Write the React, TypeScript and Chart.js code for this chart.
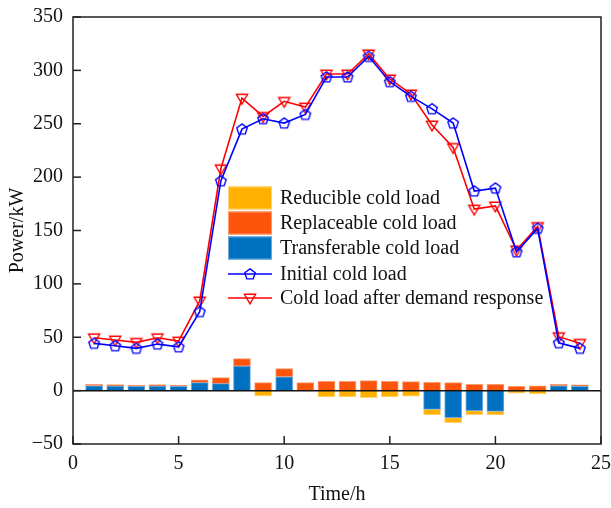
import React, { useEffect, useRef } from "react";
import { Chart, registerables } from "chart.js";

Chart.register(...registerables);

// ---- data ----
const hours = [1, 2, 3, 4, 5, 6, 7, 8, 9, 10, 11, 12, 13, 14, 15, 16, 17, 18, 19, 20, 21, 22, 23, 24];
const initialLoad = [44.3, 42, 39.6, 43.6, 41, 74, 196.5, 245, 254.7, 250.6, 258.7, 293.8, 293.8, 313, 289.4, 275.6, 264, 250.6, 187, 189.7, 130, 152, 44.8, 39.6];
const afterDR = [49.5, 47.4, 45.2, 49.5, 46.4, 84, 207.8, 274, 256.9, 271, 265.6, 296.6, 296.6, 315.4, 292, 277.9, 248.8, 227.8, 170, 173, 131.8, 153.7, 50.5, 44.3];
const transferable = [4.5, 4.3, 4, 4.3, 4, 7.5, 6.5, 23, 0, 13, 0, 0, 0, 0, 0, 0, -17.5, -25.3, -18.8, -19.4, 0, 0, 4.4, 4];
const replaceable = [1.5, 1.3, 1.2, 1.3, 1.2, 2.5, 5.7, 7, 7.5, 7.6, 7.5, 8.7, 8.7, 9.4, 8.7, 8.4, 7.8, 7.5, 6, 6, 4, 4.4, 1.5, 1.5];
const reducible = [0, 0, 0, 0, 0, 0, 0, 0, -5, 0, 0, -6, -6, -6.5, -6, -5.3, -5.3, -4.7, -3.7, -3.4, -2.5, -3, 0, 0];
const xTickValues = [0, 5, 10, 15, 20, 25];
const yTickValues = [-50, 0, 50, 100, 150, 200, 250, 300, 350];

const legendLabels = [
  "Reducible cold load",
  "Replaceable cold load",
  "Transferable cold load",
  "Initial cold load",
  "Cold load after demand response",
];

const C_YELLOW = "#FFB000";
const C_ORANGE = "#FD540B";
const C_BLUE = "#0070C0";
const B_YELLOW = "#FFD47A";
const B_ORANGE = "#FE9A70";
const B_BLUE = "#6FA8D8";
const LINE_BLUE = "#0000FF";
const LINE_RED = "#FF0000";
const FONT = '"Liberation Serif", "Times New Roman", serif';

function makePentagon(): HTMLCanvasElement {
  const c = document.createElement("canvas");
  c.width = 16;
  c.height = 16;
  const g = c.getContext("2d")!;
  g.strokeStyle = LINE_BLUE;
  g.lineWidth = 1.4;
  g.beginPath();
  const r = 5.5;
  for (let k = 0; k < 5; k++) {
    const a = -Math.PI / 2 + (k * 2 * Math.PI) / 5;
    const px = 8 + r * Math.cos(a);
    const py = 8.4 + r * Math.sin(a);
    if (k === 0) g.moveTo(px, py);
    else g.lineTo(px, py);
  }
  g.closePath();
  g.stroke();
  return c;
}

function makeTriangle(): HTMLCanvasElement {
  const c = document.createElement("canvas");
  c.width = 16;
  c.height = 16;
  const g = c.getContext("2d")!;
  g.strokeStyle = LINE_RED;
  g.lineWidth = 1.4;
  const r = 6.4;
  g.beginPath();
  const angs = [Math.PI / 2, (7 * Math.PI) / 6, (11 * Math.PI) / 6];
  angs.forEach((a, k) => {
    const px = 8 + r * Math.cos(a);
    const py = 7.5 + r * Math.sin(a);
    if (k === 0) g.moveTo(px, py);
    else g.lineTo(px, py);
  });
  g.closePath();
  g.stroke();
  return c;
}

export default function App() {
  const ref = useRef<HTMLCanvasElement>(null);

  useEffect(() => {
    if (!ref.current) return;
    const pent = makePentagon();
    const tri = makeTriangle();
    const pts = (arr: number[]) => hours.map((h, i) => ({ x: h, y: arr[i] === 0 ? null : arr[i] }));

    const decor = {
      id: "decor",
      afterDatasetsDraw(chart: any) {
        const { ctx, chartArea: a, scales } = chart;
        const x = scales.x;
        const y = scales.y;
        ctx.save();
        const line = (x1: number, y1: number, x2: number, y2: number) => {
          ctx.beginPath();
          ctx.moveTo(x1, y1);
          ctx.lineTo(x2, y2);
          ctx.stroke();
        };
        // zero line
        ctx.strokeStyle = "#111";
        ctx.lineWidth = 1.5;
        const y0 = y.getPixelForValue(0);
        line(a.left, y0, a.right, y0);
        // frame
        ctx.strokeStyle = "#222";
        ctx.lineWidth = 1.5;
        ctx.strokeRect(a.left, a.top, a.right - a.left, a.bottom - a.top);
        // inward ticks
        yTickValues.forEach((v) => {
          const py = y.getPixelForValue(v);
          line(a.left, py, a.left + 8, py);
        });
        xTickValues.forEach((v) => {
          const px = x.getPixelForValue(v);
          line(px, a.bottom, px, a.bottom - 8);
        });
        // axis titles
        ctx.fillStyle = "#111";
        ctx.font = `20px ${FONT}`;
        ctx.textAlign = "center";
        ctx.textBaseline = "middle";
        ctx.fillText("Time/h", (a.left + a.right) / 2, 495);
        ctx.save();
        ctx.translate(18, (a.top + a.bottom) / 2);
        ctx.rotate(-Math.PI / 2);
        ctx.fillText("Power/kW", 0, 0);
        ctx.restore();
        // legend
        const lx = 228;
        const lw = 44;
        const rows = [198, 223, 248, 274, 298];
        const boxes = [
          [C_YELLOW, B_YELLOW],
          [C_ORANGE, B_ORANGE],
          [C_BLUE, B_BLUE],
        ];
        boxes.forEach(([fill, border], i) => {
          ctx.fillStyle = fill;
          ctx.fillRect(lx, rows[i] - 11.5, lw, 23);
          ctx.strokeStyle = border;
          ctx.lineWidth = 1;
          ctx.strokeRect(lx + 0.5, rows[i] - 11, lw - 1, 22);
        });
        ctx.lineWidth = 1.5;
        ctx.strokeStyle = LINE_BLUE;
        line(lx, rows[3], lx + lw, rows[3]);
        ctx.drawImage(pent, lx + lw / 2 - 8, rows[3] - 8);
        ctx.strokeStyle = LINE_RED;
        line(lx, rows[4], lx + lw, rows[4]);
        ctx.drawImage(tri, lx + lw / 2 - 8, rows[4] - 8);
        ctx.fillStyle = "#111";
        ctx.font = `20px ${FONT}`;
        ctx.textAlign = "left";
        ctx.textBaseline = "middle";
        legendLabels.forEach((t, i) => ctx.fillText(t, 280, rows[i] + 1));
        ctx.restore();
      },
    };

    const chart = new Chart(ref.current, {
      type: "bar",
      data: {
        datasets: [
          {
            type: "line",
            label: legendLabels[3],
            data: pts(initialLoad),
            borderColor: LINE_BLUE,
            borderWidth: 1.6,
            pointStyle: pent as any,
            pointRadius: 5,
            stack: "l1",
            tension: 0,
          } as any,
          {
            type: "line",
            label: legendLabels[4],
            data: pts(afterDR),
            borderColor: LINE_RED,
            borderWidth: 1.6,
            pointStyle: tri as any,
            pointRadius: 5,
            stack: "l2",
            tension: 0,
          } as any,
          {
            label: legendLabels[2],
            data: pts(transferable),
            backgroundColor: C_BLUE,
            borderColor: B_BLUE,
            borderWidth: 1,
            borderSkipped: false,
            barThickness: 17,
          },
          {
            label: legendLabels[1],
            data: pts(replaceable),
            backgroundColor: C_ORANGE,
            borderColor: B_ORANGE,
            borderWidth: 1,
            borderSkipped: false,
            barThickness: 17,
          },
          {
            label: legendLabels[0],
            data: pts(reducible),
            backgroundColor: C_YELLOW,
            borderColor: B_YELLOW,
            borderWidth: 1,
            borderSkipped: false,
            barThickness: 17,
          },
        ],
      },
      options: {
        animation: false,
        responsive: false,
        devicePixelRatio: 1,
        layout: { padding: { left: 0, top: 17, right: 10, bottom: 0 } },
        plugins: { legend: { display: false }, tooltip: { enabled: false } },
        scales: {
          x: {
            type: "linear",
            stacked: true,
            offset: false,
            min: 0,
            max: 25,
            grid: { display: false, drawTicks: false },
            border: { display: false },
            ticks: {
              stepSize: 5,
              padding: 8,
              color: "#111",
              font: { family: FONT, size: 20 },
              maxRotation: 0,
            },
            afterFit(scale: any) {
              scale.height = 64;
              scale.paddingLeft = 0;
              scale.paddingRight = 0;
            },
          },
          y: {
            type: "linear",
            stacked: true,
            min: -50,
            max: 350,
            grid: { display: false, drawTicks: false },
            border: { display: false },
            ticks: {
              stepSize: 50,
              padding: 10,
              color: "#111",
              font: { family: FONT, size: 20 },
              callback: (v: any) => String(v).replace("-", "\u2212"),
            },
            afterFit(scale: any) {
              scale.width = 73;
              scale.paddingTop = 0;
              scale.paddingBottom = 0;
            },
          },
        },
      },
      plugins: [decor],
    } as any);

    return () => chart.destroy();
  }, []);

  return (
    <div style={{ position: "fixed", left: 0, top: 0, width: 611, height: 508, background: "#fff" }}>
      <canvas ref={ref} width={611} height={508} style={{ display: "block", width: 611, height: 508 }} />
    </div>
  );
}
